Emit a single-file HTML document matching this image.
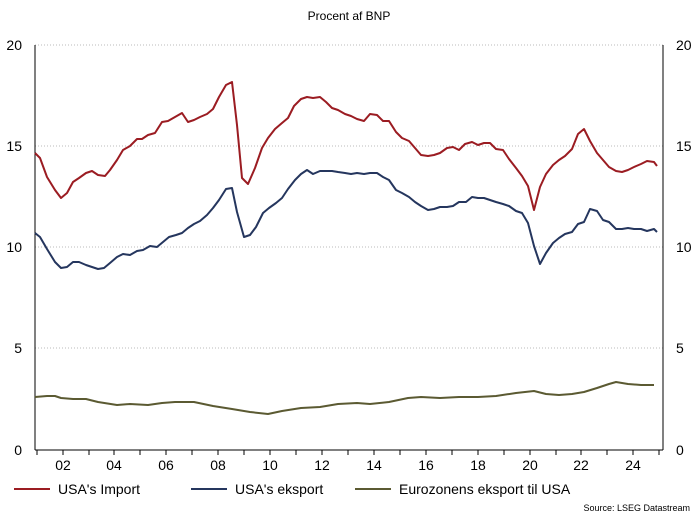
<!DOCTYPE html>
<html><head><meta charset="utf-8"><style>
body{margin:0;background:#fff;}
svg text{font-family:"Liberation Sans",Arial,sans-serif;}
</style></head><body>
<svg width="698" height="518" viewBox="0 0 698 518" xmlns="http://www.w3.org/2000/svg">
<rect width="698" height="518" fill="#fff"/>
<text x="349" y="20" font-size="12" text-anchor="middle" fill="#000">Procent af BNP</text>
<g stroke="#bbb" stroke-width="1" stroke-dasharray="1,2">
<line x1="35" y1="45" x2="663" y2="45"/>
<line x1="35" y1="146" x2="663" y2="146"/>
<line x1="35" y1="247" x2="663" y2="247"/>
<line x1="35" y1="348" x2="663" y2="348"/>
</g>
<g stroke="#000" stroke-width="1">
<line x1="35" y1="45" x2="35" y2="450"/>
<line x1="663" y1="45" x2="663" y2="450"/>
<line x1="35" y1="450" x2="663" y2="450"/>
</g>
<g stroke="#000" stroke-width="1">
<line x1="37" y1="450" x2="37" y2="455"/><line x1="63" y1="450" x2="63" y2="455"/><line x1="89" y1="450" x2="89" y2="455"/><line x1="114" y1="450" x2="114" y2="455"/><line x1="140" y1="450" x2="140" y2="455"/><line x1="166" y1="450" x2="166" y2="455"/><line x1="192" y1="450" x2="192" y2="455"/><line x1="218" y1="450" x2="218" y2="455"/><line x1="244" y1="450" x2="244" y2="455"/><line x1="270" y1="450" x2="270" y2="455"/><line x1="296" y1="450" x2="296" y2="455"/><line x1="322" y1="450" x2="322" y2="455"/><line x1="348" y1="450" x2="348" y2="455"/><line x1="374" y1="450" x2="374" y2="455"/><line x1="400" y1="450" x2="400" y2="455"/><line x1="426" y1="450" x2="426" y2="455"/><line x1="452" y1="450" x2="452" y2="455"/><line x1="478" y1="450" x2="478" y2="455"/><line x1="504" y1="450" x2="504" y2="455"/><line x1="530" y1="450" x2="530" y2="455"/><line x1="556" y1="450" x2="556" y2="455"/><line x1="581" y1="450" x2="581" y2="455"/><line x1="607" y1="450" x2="607" y2="455"/><line x1="633" y1="450" x2="633" y2="455"/><line x1="659" y1="450" x2="659" y2="455"/>
</g>
<g font-size="14" fill="#000">
<text x="22" y="50" text-anchor="end">20</text>
<text x="22" y="151" text-anchor="end">15</text>
<text x="22" y="252" text-anchor="end">10</text>
<text x="22" y="353" text-anchor="end">5</text>
<text x="22" y="455" text-anchor="end">0</text>
<text x="676" y="50">20</text>
<text x="676" y="151">15</text>
<text x="676" y="252">10</text>
<text x="676" y="353">5</text>
<text x="676" y="455">0</text>
</g>
<g font-size="14" fill="#000" text-anchor="middle">
<text x="63" y="470">02</text><text x="114" y="470">04</text><text x="166" y="470">06</text><text x="218" y="470">08</text><text x="270" y="470">10</text><text x="322" y="470">12</text><text x="374" y="470">14</text><text x="426" y="470">16</text><text x="478" y="470">18</text><text x="530" y="470">20</text><text x="581" y="470">22</text><text x="633" y="470">24</text>
</g>
<g fill="none" stroke-width="2" stroke-linejoin="round">
<polyline stroke="#9b1c22" points="35,153 40,158 47,177 55,190 61,198 67,193 73,182 79,178 86,173 92,171 98,175 105,176 110,170 117,160 123,150 130,146 137,139 142,139 148,135 155,133 162,122 168,121 175,117 182,113 188,122 194,120 200,117 207,114 213,109 219,97 226,85 232,82 237,125 242,178 248,184 255,168 262,148 268,138 275,129 282,123 288,118 294,106 301,99 307,97 313,98 320,97 326,102 332,108 338,110 345,114 351,116 357,119 364,121 370,114 377,115 383,121 389,121 396,132 402,138 409,141 415,148 421,155 428,156 434,155 440,153 447,148 453,147 459,150 465,144 472,142 478,145 484,143 490,143 496,149 503,150 509,159 516,168 522,176 528,186 534,210 540,187 546,174 553,165 559,160 565,156 572,149 578,134 584,129 590,141 597,153 603,160 609,167 616,171 622,172 628,170 634,167 641,164 647,161 654,162 657,166"/>
<polyline stroke="#25365e" points="35,233 40,237 47,249 55,262 61,268 67,267 73,262 79,262 86,265 92,267 98,269 104,268 110,263 117,257 123,254 130,255 137,251 143,250 150,246 157,247 163,242 169,237 176,235 182,233 188,228 194,224 200,221 207,215 213,208 219,200 226,189 232,188 237,212 244,237 250,235 256,227 263,213 269,208 276,203 282,198 288,189 295,180 301,174 307,170 313,174 320,171 326,171 332,171 338,172 345,173 351,174 357,173 364,174 370,173 377,173 383,177 389,180 396,190 402,193 409,197 415,202 421,206 428,210 434,209 440,207 447,207 453,206 459,202 466,202 472,197 478,198 484,198 490,200 496,202 503,204 509,206 516,211 522,213 528,223 534,246 540,264 546,253 553,243 559,238 565,234 572,232 578,224 584,222 590,209 597,211 603,220 609,222 616,229 622,229 628,228 634,229 641,229 647,231 654,229 657,232"/>
<polyline stroke="#5b5a32" points="35,397 47,396 55,396 61,398 73,399 86,399 98,402 117,405 130,404 148,405 162,403 175,402 194,402 213,406 232,409 250,412 268,414 282,411 301,408 320,407 338,404 357,403 370,404 389,402 408,398 421,397 440,398 459,397 478,397 496,396 516,393 534,391 546,394 559,395 572,394 584,392 597,388 609,384 616,382 622,383 628,384 641,385 647,385 654,385"/>
</g>
<g stroke-width="2">
<line x1="14" y1="489" x2="50" y2="489" stroke="#9b1c22"/>
<line x1="191" y1="489" x2="227" y2="489" stroke="#25365e"/>
<line x1="355" y1="489" x2="391" y2="489" stroke="#5b5a32"/>
</g>
<g font-size="14" fill="#000">
<text x="58" y="494">USA's Import</text>
<text x="235" y="494">USA's eksport</text>
<text x="399" y="494">Eurozonens eksport til USA</text>
</g>
<text x="690" y="511" font-size="9" text-anchor="end" fill="#000">Source: LSEG Datastream</text>
</svg>
</body></html>
